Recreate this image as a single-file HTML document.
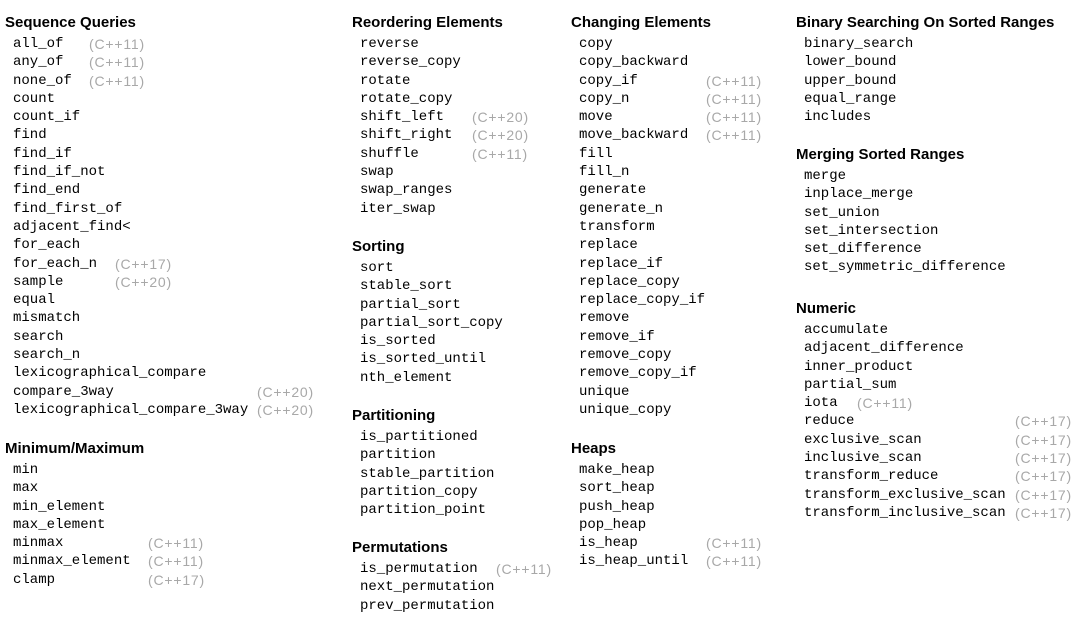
<!DOCTYPE html>
<html><head><meta charset="utf-8"><style>
body{margin:0;width:1091px;height:618px;background:#fff;position:relative;overflow:hidden}
.s{position:absolute}
.h{font:bold 15px "Liberation Sans",sans-serif;line-height:20px;margin-bottom:2px;color:#000;white-space:nowrap}
.i{font:14px "Liberation Mono",monospace;line-height:18.3px;height:18.3px;position:relative;white-space:nowrap;color:#000;margin-left:8px}
.t{position:absolute;top:0;line-height:18.3px;font:14px/18.3px "Liberation Sans",sans-serif;color:#a8a8a8;letter-spacing:0.8px}
</style></head><body>

<div class="s" style="left:5px;top:13px">
<div class="h">Sequence Queries</div>
<div class="i">all_of<span class="t" style="left:76px">(C++11)</span></div>
<div class="i">any_of<span class="t" style="left:76px">(C++11)</span></div>
<div class="i">none_of<span class="t" style="left:76px">(C++11)</span></div>
<div class="i">count</div>
<div class="i">count_if</div>
<div class="i">find</div>
<div class="i">find_if</div>
<div class="i">find_if_not</div>
<div class="i">find_end</div>
<div class="i">find_first_of</div>
<div class="i">adjacent_find&lt;</div>
<div class="i">for_each</div>
<div class="i">for_each_n<span class="t" style="left:102px">(C++17)</span></div>
<div class="i">sample<span class="t" style="left:102px">(C++20)</span></div>
<div class="i">equal</div>
<div class="i">mismatch</div>
<div class="i">search</div>
<div class="i">search_n</div>
<div class="i">lexicographical_compare</div>
<div class="i">compare_3way<span class="t" style="left:244px">(C++20)</span></div>
<div class="i">lexicographical_compare_3way<span class="t" style="left:244px">(C++20)</span></div>
</div>

<div class="s" style="left:5px;top:439px">
<div class="h">Minimum/Maximum</div>
<div class="i">min</div>
<div class="i">max</div>
<div class="i">min_element</div>
<div class="i">max_element</div>
<div class="i">minmax<span class="t" style="left:135px">(C++11)</span></div>
<div class="i">minmax_element<span class="t" style="left:135px">(C++11)</span></div>
<div class="i">clamp<span class="t" style="left:135px">(C++17)</span></div>
</div>

<div class="s" style="left:352px;top:13px">
<div class="h">Reordering Elements</div>
<div class="i">reverse</div>
<div class="i">reverse_copy</div>
<div class="i">rotate</div>
<div class="i">rotate_copy</div>
<div class="i">shift_left<span class="t" style="left:112px">(C++20)</span></div>
<div class="i">shift_right<span class="t" style="left:112px">(C++20)</span></div>
<div class="i">shuffle<span class="t" style="left:112px">(C++11)</span></div>
<div class="i">swap</div>
<div class="i">swap_ranges</div>
<div class="i">iter_swap</div>
</div>

<div class="s" style="left:352px;top:237px">
<div class="h">Sorting</div>
<div class="i">sort</div>
<div class="i">stable_sort</div>
<div class="i">partial_sort</div>
<div class="i">partial_sort_copy</div>
<div class="i">is_sorted</div>
<div class="i">is_sorted_until</div>
<div class="i">nth_element</div>
</div>

<div class="s" style="left:352px;top:406px">
<div class="h">Partitioning</div>
<div class="i">is_partitioned</div>
<div class="i">partition</div>
<div class="i">stable_partition</div>
<div class="i">partition_copy</div>
<div class="i">partition_point</div>
</div>

<div class="s" style="left:352px;top:538px">
<div class="h">Permutations</div>
<div class="i">is_permutation<span class="t" style="left:136px">(C++11)</span></div>
<div class="i">next_permutation</div>
<div class="i">prev_permutation</div>
</div>

<div class="s" style="left:571px;top:13px">
<div class="h">Changing Elements</div>
<div class="i">copy</div>
<div class="i">copy_backward</div>
<div class="i">copy_if<span class="t" style="left:127px">(C++11)</span></div>
<div class="i">copy_n<span class="t" style="left:127px">(C++11)</span></div>
<div class="i">move<span class="t" style="left:127px">(C++11)</span></div>
<div class="i">move_backward<span class="t" style="left:127px">(C++11)</span></div>
<div class="i">fill</div>
<div class="i">fill_n</div>
<div class="i">generate</div>
<div class="i">generate_n</div>
<div class="i">transform</div>
<div class="i">replace</div>
<div class="i">replace_if</div>
<div class="i">replace_copy</div>
<div class="i">replace_copy_if</div>
<div class="i">remove</div>
<div class="i">remove_if</div>
<div class="i">remove_copy</div>
<div class="i">remove_copy_if</div>
<div class="i">unique</div>
<div class="i">unique_copy</div>
</div>

<div class="s" style="left:571px;top:439px">
<div class="h">Heaps</div>
<div class="i">make_heap</div>
<div class="i">sort_heap</div>
<div class="i">push_heap</div>
<div class="i">pop_heap</div>
<div class="i">is_heap<span class="t" style="left:127px">(C++11)</span></div>
<div class="i">is_heap_until<span class="t" style="left:127px">(C++11)</span></div>
</div>

<div class="s" style="left:796px;top:13px">
<div class="h">Binary Searching On Sorted Ranges</div>
<div class="i">binary_search</div>
<div class="i">lower_bound</div>
<div class="i">upper_bound</div>
<div class="i">equal_range</div>
<div class="i">includes</div>
</div>

<div class="s" style="left:796px;top:145px">
<div class="h">Merging Sorted Ranges</div>
<div class="i">merge</div>
<div class="i">inplace_merge</div>
<div class="i">set_union</div>
<div class="i">set_intersection</div>
<div class="i">set_difference</div>
<div class="i">set_symmetric_difference</div>
</div>

<div class="s" style="left:796px;top:299px">
<div class="h">Numeric</div>
<div class="i">accumulate</div>
<div class="i">adjacent_difference</div>
<div class="i">inner_product</div>
<div class="i">partial_sum</div>
<div class="i">iota<span class="t" style="left:53px">(C++11)</span></div>
<div class="i">reduce<span class="t" style="left:211px">(C++17)</span></div>
<div class="i">exclusive_scan<span class="t" style="left:211px">(C++17)</span></div>
<div class="i">inclusive_scan<span class="t" style="left:211px">(C++17)</span></div>
<div class="i">transform_reduce<span class="t" style="left:211px">(C++17)</span></div>
<div class="i">transform_exclusive_scan<span class="t" style="left:211px">(C++17)</span></div>
<div class="i">transform_inclusive_scan<span class="t" style="left:211px">(C++17)</span></div>
</div>

</body></html>
